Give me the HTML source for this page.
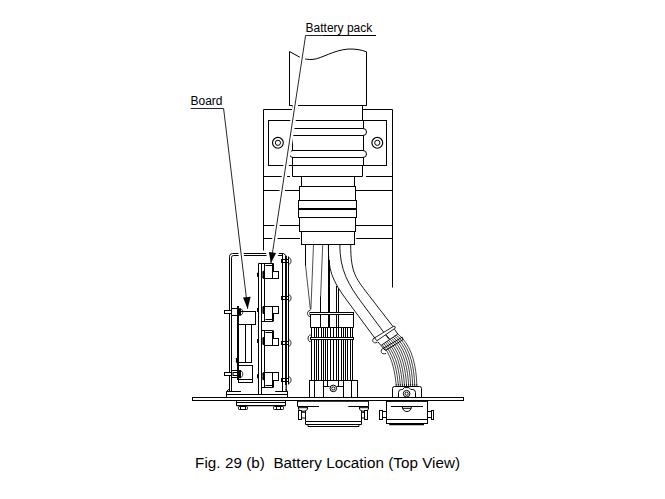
<!DOCTYPE html>
<html>
<head>
<meta charset="utf-8">
<title>Fig. 29 (b) Battery Location (Top View)</title>
<style>
html,body{margin:0;padding:0;background:#fff;}
body{width:665px;height:499px;overflow:hidden;font-family:"Liberation Sans",sans-serif;}
svg{display:block;position:absolute;left:0;top:0;}
.l{stroke:#000;stroke-width:1;fill:none;}
.w{stroke:#000;stroke-width:1;fill:#fff;}
.n{stroke:#000;stroke-width:0.75;fill:none;}
.g{stroke:#000;stroke-width:0.7;fill:none;}
.k{stroke:#000;stroke-width:2;fill:none;}
.halo{stroke:#fff;stroke-width:5.3;fill:none;}
.b{fill:#000;stroke:none;}
.rw{stroke:#000;stroke-width:0.72;fill:none;}
.ld{stroke:#000;stroke-width:0.85;fill:none;}
text{font-family:"Liberation Sans",sans-serif;fill:#000;}
</style>
</head>
<body>
<svg width="665" height="499" viewBox="0 0 665 499">
<rect x="0" y="0" width="665" height="499" fill="#fff"/>
<!-- ===== Mounting bracket ===== -->
<g id="bracket" class="l">
  <path d="M263.5,250.5 V109.5 H292.5"/>
  <path d="M362.5,109.5 H392.5 V287.5"/>
  <path d="M263.5,176.5 H290 M366,176.5 H392.5"/>
  <path d="M263.5,190.5 H299.5 M355.5,190.5 H392.5"/>
  <path d="M263.5,225.5 H299.5 M355.5,225.5 H392.5"/>
  <path d="M263.5,238.5 H300 M356.2,238.5 H392.5"/>
  <rect x="268.5" y="120.5" width="118" height="45"/>
  <circle cx="277.9" cy="142.8" r="5.4" style="stroke-width:1.15"/>
  <circle cx="277.9" cy="142.8" r="2.6"/>
  <circle cx="377.3" cy="142.8" r="5.4" style="stroke-width:1.15"/>
  <circle cx="377.3" cy="142.8" r="2.6"/>
</g>

<!-- ===== Cable top piece ===== -->
<g id="cabletop">
  <path class="w" d="M289.5,105.5 V51.5 L299.5,57.1 C304,59 309,59.9 313,59.4 C322,58.4 333,50.4 347.7,49.1 C355,48.6 362,50 366.5,51.8 V105.5 Z"/>
</g>
<!-- ===== Connector body ===== -->
<g id="body">
  <path class="w" d="M292.5,105.5 V176.5 H362.5 V165.5 H363.5 V120.5 H362.5 V105.5"/>
  <path class="l" d="M289.5,105.5 H366.5"/>
  <path class="l" d="M292.5,120.5 H363 M292.5,165.5 H363"/>
  <rect class="w" x="289.5" y="128.5" width="77" height="7" rx="3.5"/>
  <rect class="w" x="289.5" y="150.5" width="77" height="7" rx="3.5"/>
  <rect class="w" x="301.5" y="176.5" width="53" height="10"/>
  <rect class="w" x="299.5" y="186.5" width="56" height="14"/>
  <rect class="w" x="298.5" y="200.5" width="58" height="17"/>
  <path class="k" d="M298.5,209 H356.5"/>
  <rect class="w" x="299.5" y="217.5" width="56" height="14"/>
  <rect class="w" x="301.5" y="231.5" width="53" height="13"/>
</g>

<!-- ===== Wires below the connector ===== -->
<g id="wires">
  <path class="l" d="M305.5,244.5 V265.5"/>
  <path class="g" style="stroke-width:.7" d="M305.5,265 L310.4,309.5"/>
  <path class="g" d="M313.5,244.5 L310.9,309.5"/>
  <path class="g" d="M322.7,244.5 L320.6,297"/>
  <path class="l" d="M320.5,296.5 V327.5"/>
  <path class="l" d="M328.5,244.5 V266"/>
  <path class="k" d="M329,260 V327.5"/>
  <path class="l" d="M336.5,286 V327.5 M338.5,288.5 V380"/>
  <!-- bent cable -->
  <path class="l" style="stroke-width:.9" d="M328.4,244.5 C328.4,266.1 329.4,276.7 345.9,299 L374.9,338.2"/>
  <path class="l" style="stroke-width:.9" d="M339.8,244.5 C339.8,270.1 348.3,284.7 362.7,304 L388.9,339.2"/>
  <path class="l" style="stroke-width:.9" d="M350.7,244.5 C350.7,273.7 355.7,278.3 371.7,299 L393.2,326.8"/>
</g>
<!-- ===== Left ribbon + tie bands ===== -->
<g id="ribbonL">
  <path class="l" d="M311.5,327.5V380.5M314.5,327.5V380.5M316.5,327.5V380.5M318.5,327.5V380.5M321.5,327.5V380.5M323.5,327.5V380.5M325.5,327.5V380.5M327.5,327.5V380.5M330.5,327.5V380.5M333.5,327.5V380.5M336.5,327.5V380.5M338.5,327.5V380.5M341.5,327.5V380.5M343.5,327.5V380.5M345.5,327.5V380.5M347.5,327.5V380.5M350.5,327.5V380.5M352.5,327.5V380.5"/>
  <path class="l" d="M310.5,314.5 V327.5 H353.5 V314.5"/>
  <rect class="w" x="310" y="312.5" width="43.5" height="2"/>
  <path class="l" style="stroke-width:.9" d="M310.3,310.3 C306.6,310.3 306.6,316.6 310.3,316.6"/>
  <rect class="w" x="310.5" y="337.5" width="43" height="2"/>
  <path class="l" style="stroke-width:.9" d="M310.7,335 C307.2,335 307.2,341.8 310.7,341.8"/>
</g>
<!-- ===== Bent cable end, bands, ribbon ===== -->
<g id="ribbonR">
  <!-- sheath edges after band 1 -->
  <path class="l" style="stroke-width:.9" d="M377.8,341.8 L383.2,348 M394.4,329.2 L397.8,334"/>
  <path class="l" style="stroke-width:.9" d="M384.7,333.4 L389.6,338.8"/>
  <!-- sheath end line -->
  <path class="l" style="stroke-width:.85" d="M381.4,345.2 L397.8,334"/>
  <!-- ribbon wires -->
  <path class="rw" d="M382.2,344.5 L384.5,347.7 C393.0,358.7 394.9,373.6 396.2,384.6"/>
  <path class="rw" d="M383.8,343.4 L386.2,346.7 C395.0,357.7 397.0,373.0 398.3,384.6"/>
  <path class="rw" d="M385.3,342.4 L388.0,345.7 C396.9,356.8 399.2,372.3 400.3,384.6"/>
  <path class="rw" d="M386.9,341.3 L389.7,344.7 C398.9,355.8 401.3,371.7 402.4,384.6"/>
  <path class="rw" d="M388.4,340.3 L391.4,343.7 C400.8,354.9 403.4,371.0 404.4,384.6"/>
  <path class="rw" d="M390.0,339.2 L393.1,342.6 C402.8,353.9 405.6,370.4 406.5,384.6"/>
  <path class="rw" d="M391.6,338.2 L394.9,341.6 C404.7,353.0 407.7,369.8 408.6,384.6"/>
  <path class="rw" d="M393.1,337.1 L396.6,340.6 C406.7,352.0 409.9,369.1 410.6,384.6"/>
  <path class="rw" d="M394.7,336.1 L398.3,339.6 C408.7,351.0 412.0,368.5 412.7,384.6"/>
  <path class="rw" d="M396.2,335.1 L400.1,338.6 C410.6,350.1 414.1,367.8 414.7,384.6"/>
  <path class="rw" d="M397.8,334.0 L401.8,337.6 C412.6,349.1 416.3,367.2 416.8,384.6"/>
  <path class="l" style="stroke-width:.9" d="M396.2,384V386.5M398.3,384V386.5M400.3,384V386.5M402.4,384V386.5M404.4,384V386.5M406.5,384V386.5M408.6,384V386.5M410.6,384V386.5M412.7,384V386.5M414.7,384V386.5M416.8,384V386.5"/>
  <!-- band 1 -->
  <path class="w" style="stroke-width:.85" d="M374.7,337.8 L393.8,326.2 Q395.6,326 395.2,328.2 L376.8,340.8 Z"/>
  <path class="l" style="stroke-width:.85" d="M375.4,337.4 C371.4,338 371.8,344.6 377.4,342.4"/>
  <!-- band 2 -->
  <path class="l" style="stroke-width:1" d="M383.2,348.4 L402.2,337.2 L403,339.6 L385.6,350.4 Z"/>
  <path class="l" style="stroke-width:.85" d="M383.6,348.2 C379.8,349 380.4,355.6 386,353.4"/>
</g>

<!-- ===== Base plate ===== -->
<rect class="w" x="192.5" y="397.5" width="271" height="3"/>
<!-- ===== Left connector (below wires) ===== -->
<g id="connL">
  <rect class="w" x="309.5" y="380.5" width="48" height="17"/>
  <path class="l" d="M314.5,380.5 V397.5 M323.5,380.5 V397.5 M343.5,380.5 V397.5 M351.5,380.5 V397.5"/>
  <path class="l" d="M327.5,380.5 V386.5 M338.5,380.5 V386.5 M323.5,386.5 H329.5 M336.5,386.5 H343.5"/>
  <circle class="w" cx="333.3" cy="388.4" r="3.3" style="stroke-width:1"/>
  <circle class="l" cx="333.3" cy="388.4" r="1.6" style="stroke-width:.9"/>
  <path class="l" d="M297.5,401 V406.5 H319 M348.3,406.5 H368.5 V401"/>
  <path class="l" style="stroke-width:1.6" d="M297,400.8 H369"/>
  <path class="l" d="M305.5,411 V421.5 H361.5 V411"/>
  <path class="l" d="M305.5,421.5 V424.5 H361.5 V421.5"/>
  <path class="l" d="M308,424.5 V426.5 H359 V424.5"/>
  <!-- left screw -->
  <path class="w" d="M298.5,406.5 H307.5 V409 Q307,411.3 303,411.3 Q299,411.3 298.5,409 Z"/>
  <path class="l" d="M299,407.7 H307"/>
  <rect class="w" x="298.5" y="410.5" width="3" height="9"/>
  <rect class="w" x="301.5" y="412.3" width="4" height="5.7"/>
  <!-- right screw -->
  <path class="w" d="M359.5,406.5 H368.5 V409 Q368,411.3 364,411.3 Q360,411.3 359.5,409 Z"/>
  <path class="l" d="M360,407.7 H368"/>
  <rect class="w" x="364.5" y="410.5" width="3" height="9"/>
  <rect class="w" x="361.5" y="412.3" width="3" height="5.7"/>
</g>
<!-- ===== Right connector ===== -->
<g id="connR">
  <path class="w" d="M392.5,397.5 V388.5 Q392.5,386.5 394.5,386.5 H419.5 Q421.5,386.5 421.5,388.5 V397.5"/>
  <path class="l" d="M398.5,397.5 V392.5 Q398.5,389.5 401.5,389.5 H402.6 L404.4,387.6 H409 L410.8,389.5 H412.5 Q415.5,389.5 415.5,392.5 V397.5"/>
  <circle class="w" cx="406.6" cy="393.7" r="3.3" style="stroke-width:1"/>
  <circle class="l" cx="406.6" cy="393.7" r="1.6" style="stroke-width:.9"/>
  <rect class="w" x="386.5" y="401" width="41" height="22.5"/>
  <path class="l" style="stroke-width:1.6" d="M386,400.8 H428"/>
  <path class="l" d="M386.5,419.5 H427.5"/>
  <path class="l" d="M391,406.5 H423"/>
  <path class="l" d="M402.3,406.5 C402.3,413.2 411.5,413.2 411.5,406.5 M402.8,408.3 H411"/>
  <path class="l" style="stroke-width:1.5" d="M389.2,424.4 H424"/>
  <rect class="w" x="379.5" y="410.5" width="3" height="9"/>
  <rect class="w" x="382.5" y="411.5" width="4" height="6"/>
  <rect class="w" x="427.5" y="411.5" width="4" height="6"/>
  <rect class="w" x="431.5" y="410.5" width="2" height="9"/>
</g>

<!-- ===== Battery box frame ===== -->
<g id="batframe">
  <path class="l" d="M229.5,391.5 V256.5 Q229.5,253.5 232.5,253.5 H283.5 L286,255.6"/>
  <path class="l" d="M231.5,391.5 V257.5 Q231.5,255.5 233.5,255.5 H282.5"/>
</g>
<!-- halos under leaders -->
<g id="halos">
  <path class="halo" d="M305.9,36.5 L272.5,254"/>
  <path class="halo" d="M223.6,110 L246.3,297"/>
  <path d="M270.9,263.2 L268.7,252 L276.1,253 Z" fill="#fff" stroke="#fff" stroke-width="5.6" stroke-linejoin="round"/>
</g>

<!-- ===== Battery box internals ===== -->
<g id="batbox">
  <path class="l" d="M226.5,397.5 V391.5 L229.5,388.8 M226.5,394.5 H287.5 M287.5,397.5 V391.5 L285.6,389"/>
  <path class="l" d="M226.5,391.5 H241 M275.2,391.5 H287.5"/>
  <path class="l" d="M236.5,401 V405.5 H285.5 V401 M236.5,402.5 H285.5"/>
  <path class="l" style="stroke-width:1.3" d="M236.5,405.7 H285.5"/>
  <rect class="w" x="238.5" y="406.5" width="9" height="3" rx=".8"/>
  <path class="l" d="M240.5,406.5 V409.5 M245.5,406.5 V409.5"/>
  <rect class="w" x="273.5" y="406.5" width="10" height="3" rx=".8"/>
  <path class="l" d="M276.5,406.5 V409.5 M280.5,406.5 V409.5"/>
  <path class="l" d="M258.5,394.5 V263.5 H273.5 M261.5,263.5 V394.5 M264.5,263.5 V321.5 M264.5,330.5 V387.5"/>
  <path class="l" d="M282.5,254 V391.5"/>
  <path class="l" style="stroke-width:1.9" d="M286,255.7 V385"/>
  <path class="l" style="stroke-width:1.2" d="M286.2,385 V391.5"/>
  <path class="l" d="M288.5,256.5 V384.5"/>
  <g id="nuts">
    <path class="l" d="M281,259.5 H289 M281,262.5 H289"/>
    <rect class="b" x="281" y="259.0" width="1.2" height="4"/>
    <path class="l" style="stroke-width:.8" d="M289,257.7 C291.7,258.4 291.7,263.6 289,264.3"/>
    <path class="l" d="M281,296.5 H289 M281,299.5 H289"/>
    <rect class="b" x="281" y="296.0" width="1.2" height="4"/>
    <path class="l" style="stroke-width:.8" d="M289,294.7 C291.7,295.4 291.7,300.6 289,301.3"/>
    <path class="l" d="M281,341.5 H289 M281,344.5 H289"/>
    <rect class="b" x="281" y="341.0" width="1.2" height="4"/>
    <path class="l" style="stroke-width:.8" d="M289,339.7 C291.7,340.4 291.7,345.6 289,346.3"/>
    <path class="l" d="M281,378.5 H289 M281,381.5 H289"/>
    <rect class="b" x="281" y="378.0" width="1.2" height="4"/>
    <path class="l" style="stroke-width:.8" d="M289,376.7 C291.7,377.4 291.7,382.6 289,383.3"/>
  </g>
  <g id="bc1">
    <rect class="w" x="264.5" y="263.5" width="8" height="15.0"/>
    <rect class="w" x="272.5" y="271.5" width="6" height="7.0"/>
    <path class="l" d="M273.5,263.5 V271.5"/>
    <path class="l" d="M265.5,265.5 H272"/>
    <path class="l" d="M261.5,263.5 H264.5"/>
    <rect class="b" x="257" y="272.8" width="1.5" height="4"/>
    <rect class="b" x="263" y="270.8" width="1.5" height="8"/>
    <path class="l" style="stroke-width:.8" d="M263.2,271.0 C261.8,272.3 261.8,277.3 263.2,278.6"/>
  </g>
  <g id="bc2">
    <rect class="w" x="264.5" y="306.5" width="8" height="15.0"/>
    <rect class="w" x="272.5" y="306.5" width="6" height="7.0"/>
    <path class="l" d="M273.5,313.5 V321.5"/>
    <path class="l" d="M265.5,319.5 H272"/>
    <path class="l" d="M261.5,321.5 H264.5"/>
    <rect class="b" x="257" y="308" width="1.5" height="4"/>
    <rect class="b" x="263" y="306" width="1.5" height="8"/>
    <path class="l" style="stroke-width:.8" d="M263.2,306.2 C261.8,307.5 261.8,312.5 263.2,313.8"/>
  </g>
  <g id="bc3">
    <rect class="w" x="264.5" y="330.5" width="8" height="15.0"/>
    <rect class="w" x="272.5" y="338.5" width="6" height="7.0"/>
    <path class="l" d="M273.5,330.5 V338.5"/>
    <path class="l" d="M265.5,332.5 H272"/>
    <path class="l" d="M261.5,330.5 H264.5"/>
    <rect class="b" x="257" y="339" width="1.5" height="4"/>
    <rect class="b" x="263" y="337" width="1.5" height="8"/>
    <path class="l" style="stroke-width:.8" d="M263.2,337.2 C261.8,338.5 261.8,343.5 263.2,344.8"/>
  </g>
  <g id="bc4">
    <rect class="w" x="264.5" y="372.5" width="8" height="15.0"/>
    <rect class="w" x="272.5" y="372.5" width="6" height="8.0"/>
    <path class="l" d="M273.5,380.5 V387.5"/>
    <path class="l" d="M265.5,385.5 H272"/>
    <path class="l" d="M261.5,387.5 H264.5"/>
    <rect class="b" x="257" y="374.2" width="1.5" height="4"/>
    <rect class="b" x="263" y="372.2" width="1.5" height="8"/>
    <path class="l" style="stroke-width:.8" d="M263.2,372.4 C261.8,373.7 261.8,378.7 263.2,380.0"/>
  </g>
  <g id="board">
    <rect class="w" x="238.5" y="311.5" width="17" height="13"/>
    <path class="l" d="M245.5,324.5 V362.5 M251.5,324.5 V362.5 M239,362.5 H252"/>
    <rect class="b" x="235.9" y="358" width="1.6" height="4.8"/>
    <rect class="w" x="238.5" y="365.5" width="14" height="17"/>
    <path class="l" d="M239,379.5 H252.5"/>
    <path class="k" d="M238,306 V380"/>
    <!-- upper bolt -->
    <rect class="w" x="224.5" y="310.5" width="7" height="3"/>
    <rect x="232" y="309" width="5" height="6" fill="#fff"/>
    <path class="l" d="M231.5,308.5 H237 M231.5,315.5 H237"/>
    <rect class="b" x="238.5" y="308.3" width="2.5" height="7.4"/>
    <path class="l" style="stroke-width:.8" d="M241,309 C243.4,309.6 243.4,314.4 241,315"/>
    <!-- lower bolt -->
    <rect class="w" x="224.5" y="372.5" width="7" height="3"/>
    <rect x="232" y="371" width="5" height="6" fill="#fff"/>
    <path class="l" d="M231.5,370.5 H237 M231.5,377.5 H237"/>
    <rect class="w" x="233" y="372.5" width="4.5" height="3"/>
    <rect class="b" x="238.5" y="370" width="2.5" height="8.2"/>
    <path class="l" style="stroke-width:.8" d="M241,371 C243.4,371.6 243.4,376.7 241,377.3"/>
  </g>
</g>

<!-- plate edges redrawn on top -->
<path class="l" d="M192.5,397.5 H463.5 M192.5,400.5 H463.5 M192.5,397.5 V400.5 M463.5,397.5 V400.5"/>
<path class="l" style="stroke-width:1.6" d="M297,400.8 H369 M386,400.8 H428"/>

<!-- ===== Leaders and labels ===== -->
<g id="leaders">
  <path class="ld" d="M322.5,35.5 H305.6 L270.9,263"/>
  <path class="l" d="M322.5,35.5 H376"/>
  <path class="ld" d="M190.6,108.5 H223.6 L247.7,308.8"/>
  <path class="b" d="M270.9,263.2 L268.9,252 L276.1,253 Z"/>
  <path class="b" d="M247.7,309 L243,297.6 L250.6,296.8 Z"/>
</g>
<text x="305.6" y="31.7" font-size="12">Battery pack</text>
<text x="190.5" y="104.8" font-size="12">Board</text>
<text x="195.1" y="468.2" font-size="15.2" textLength="265" lengthAdjust="spacing" xml:space="preserve">Fig. 29 (b)  Battery Location (Top View)</text>
</svg>
</body>
</html>
